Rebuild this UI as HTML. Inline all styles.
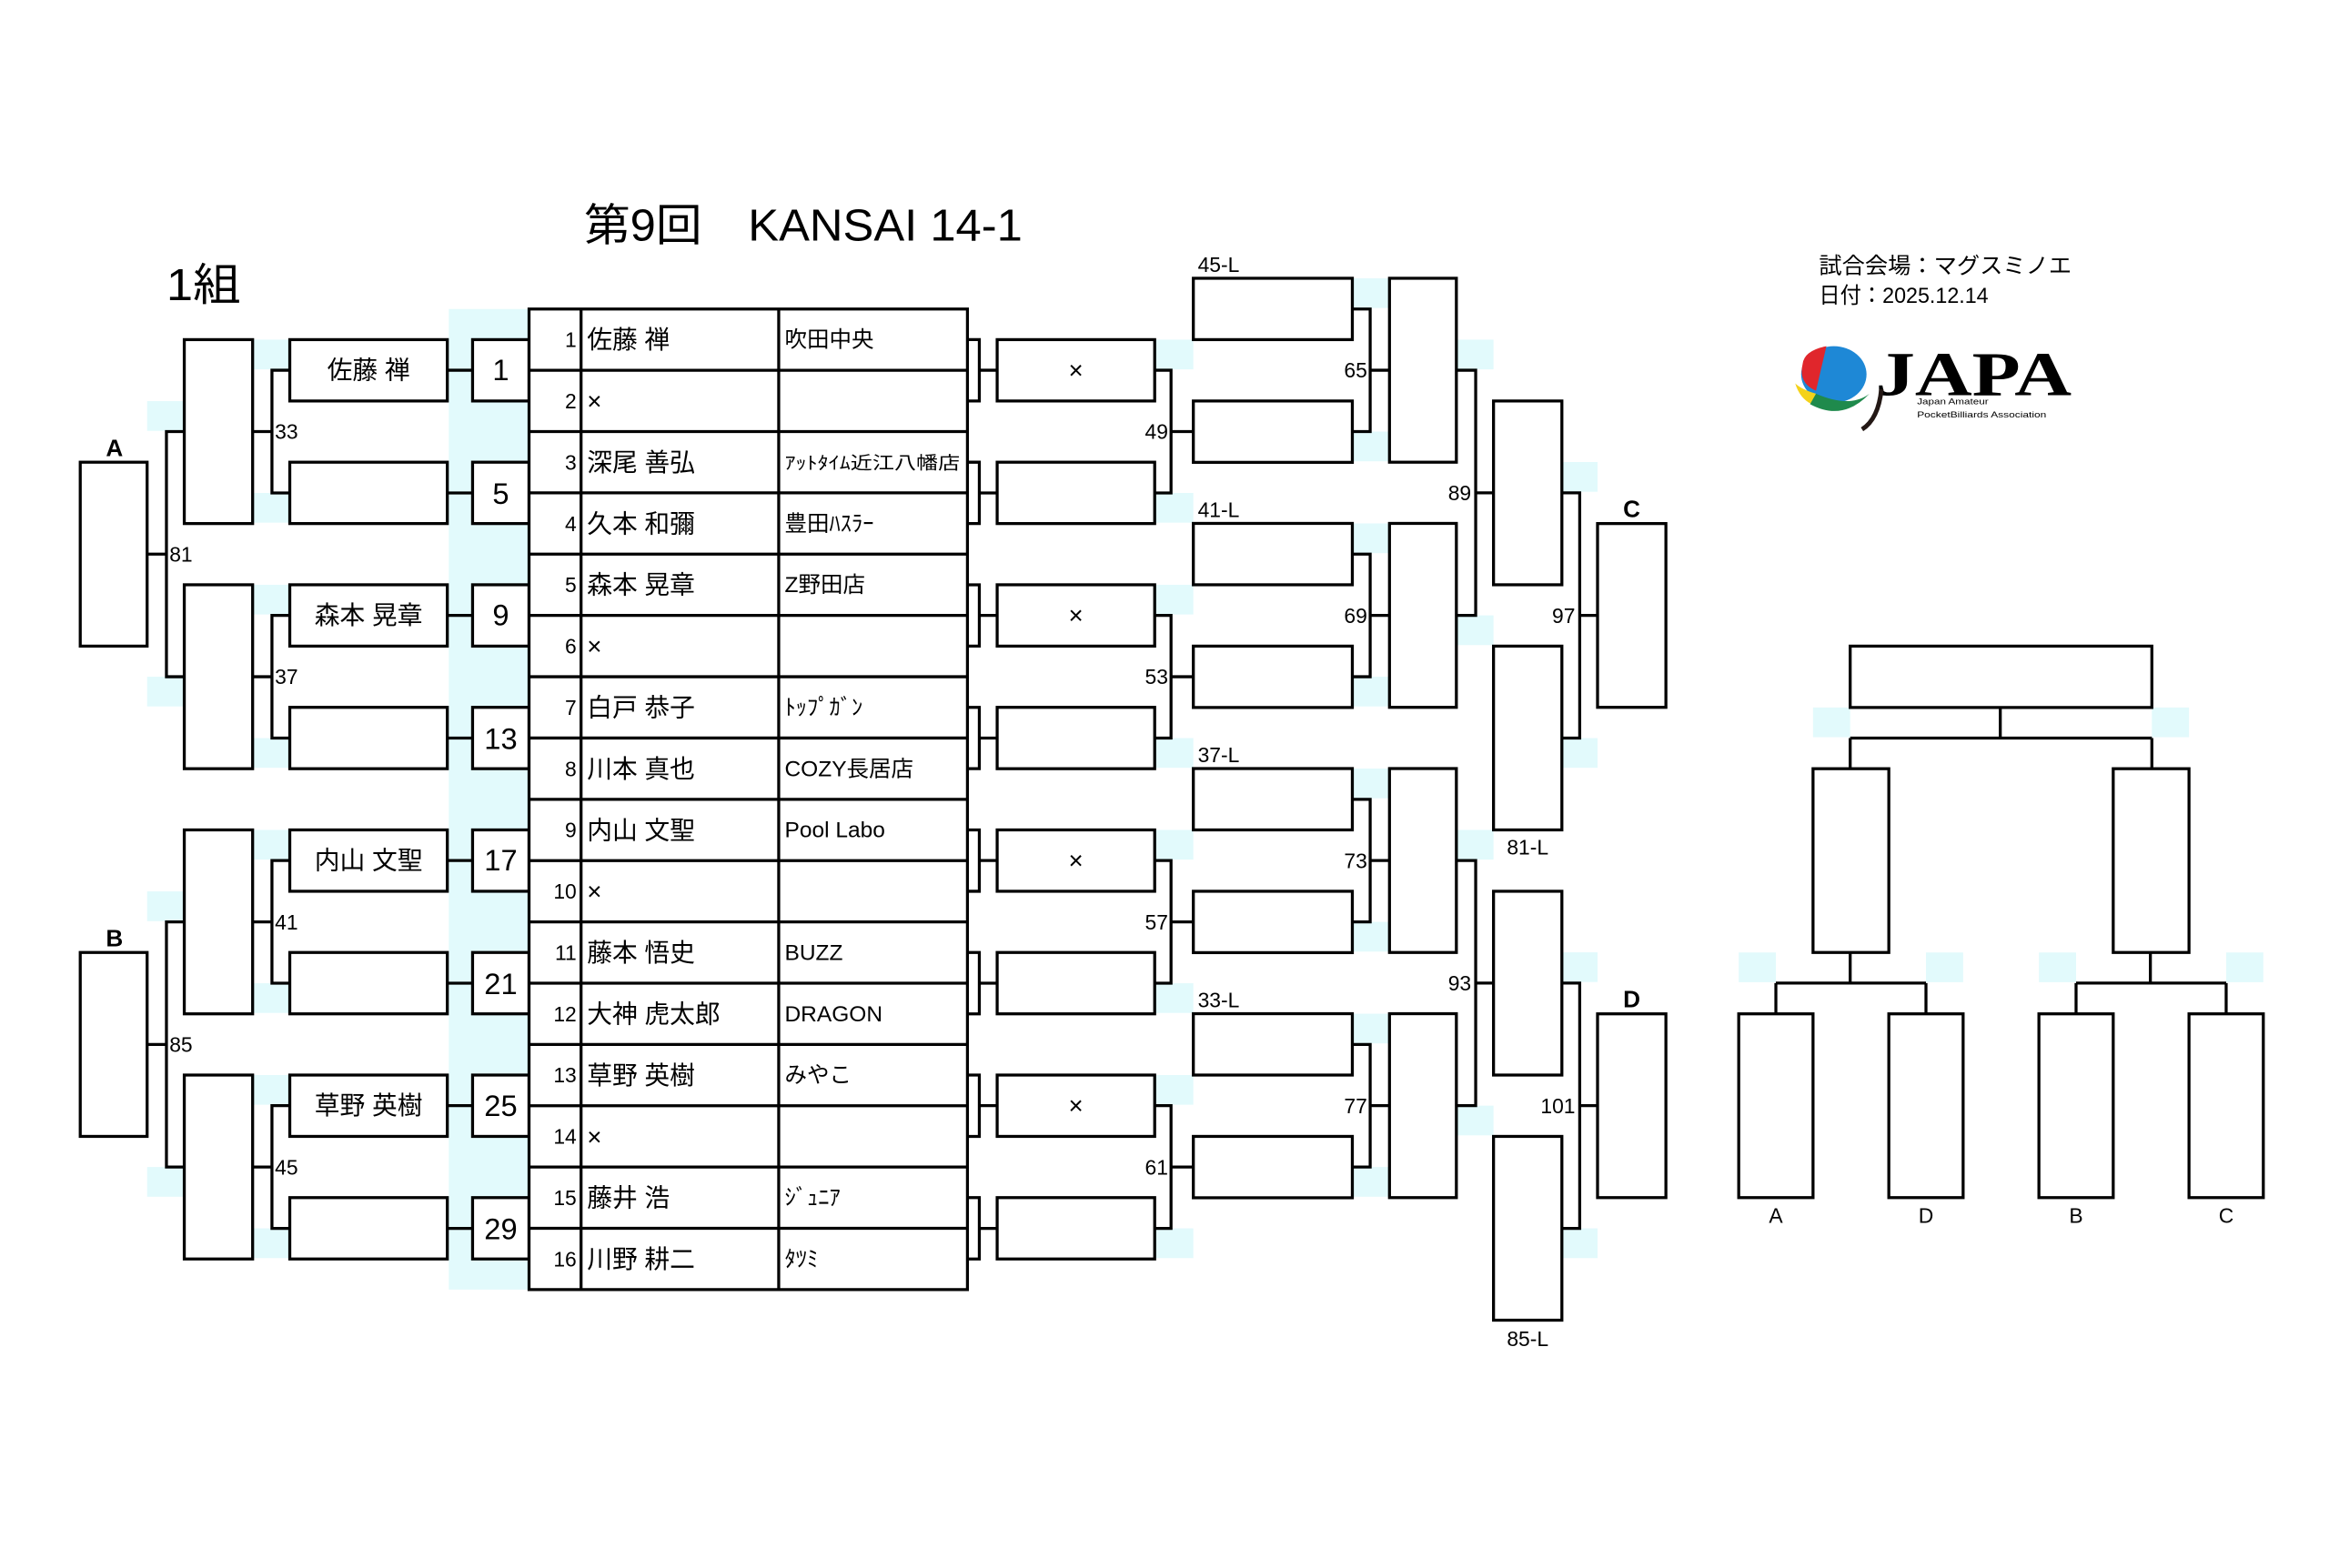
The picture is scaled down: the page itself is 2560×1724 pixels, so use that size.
<!DOCTYPE html>
<html><head><meta charset="utf-8"><style>
html,body{margin:0;padding:0;background:#fff;}
svg{display:block;}
text{font-family:"Liberation Sans","Noto Sans CJK JP",sans-serif;fill:#000;}
</style></head><body>
<svg width="2560" height="1724" viewBox="0 0 1567.2 1055.4" preserveAspectRatio="none" xmlns="http://www.w3.org/2000/svg">
<rect x="0" y="0" width="1570" height="1060" fill="#fff"/>
<!-- cyan patches -->
<g fill="#e2fafc">
<rect x="302" y="208" width="54" height="660"/>
<rect x="170" y="228.6" width="25" height="20"/><rect x="170" y="331.8" width="25" height="20"/>
<rect x="170" y="393.6" width="25" height="20"/><rect x="170" y="496.8" width="25" height="20"/>
<rect x="170" y="558.6" width="25" height="20"/><rect x="170" y="661.8" width="25" height="20"/>
<rect x="170" y="723.6" width="25" height="20"/><rect x="170" y="826.8" width="25" height="20"/>
<rect x="99" y="270" width="25" height="20"/><rect x="99" y="455.5" width="25" height="20"/>
<rect x="99" y="600" width="25" height="20"/><rect x="99" y="785.5" width="25" height="20"/>
<rect x="777" y="228.6" width="26" height="20"/><rect x="777" y="331.8" width="26" height="20"/>
<rect x="777" y="393.6" width="26" height="20"/><rect x="777" y="496.8" width="26" height="20"/>
<rect x="777" y="558.6" width="26" height="20"/><rect x="777" y="661.8" width="26" height="20"/>
<rect x="777" y="723.6" width="26" height="20"/><rect x="777" y="826.8" width="26" height="20"/>
<rect x="910" y="187.3" width="25" height="20"/><rect x="910" y="290.5" width="25" height="20"/>
<rect x="910" y="352.3" width="25" height="20"/><rect x="910" y="455.5" width="25" height="20"/>
<rect x="910" y="517.3" width="25" height="20"/><rect x="910" y="620.5" width="25" height="20"/>
<rect x="910" y="682.3" width="25" height="20"/><rect x="910" y="785.5" width="25" height="20"/>
<rect x="980" y="228.6" width="25" height="20"/><rect x="980" y="414.2" width="25" height="20"/>
<rect x="980" y="558.6" width="25" height="20"/><rect x="980" y="744.2" width="25" height="20"/>
<rect x="1051" y="311" width="24" height="20"/><rect x="1051" y="496.8" width="24" height="20"/>
<rect x="1051" y="641" width="24" height="20"/><rect x="1051" y="826.8" width="24" height="20"/>
<rect x="1220" y="476.2" width="25" height="20"/><rect x="1448" y="476.2" width="25" height="20"/>
<rect x="1170" y="641.1" width="25" height="20"/><rect x="1296" y="641.1" width="25" height="20"/>
<rect x="1372" y="641.1" width="25" height="20"/><rect x="1498" y="641.1" width="25" height="20"/>
</g>

<g fill="#fff" stroke="#000" stroke-width="2">
<rect x="195" y="228.6" width="106" height="41.3"/><rect x="195" y="311.1" width="106" height="41.3"/>
<rect x="195" y="393.6" width="106" height="41.3"/><rect x="195" y="476.1" width="106" height="41.3"/>
<rect x="195" y="558.6" width="106" height="41.3"/><rect x="195" y="641.1" width="106" height="41.3"/>
<rect x="195" y="723.6" width="106" height="41.3"/><rect x="195" y="806.1" width="106" height="41.3"/>
<rect x="318" y="228.6" width="38" height="41.3"/><rect x="318" y="311.1" width="38" height="41.3"/>
<rect x="318" y="393.6" width="38" height="41.3"/><rect x="318" y="476.1" width="38" height="41.3"/>
<rect x="318" y="558.6" width="38" height="41.3"/><rect x="318" y="641.1" width="38" height="41.3"/>
<rect x="318" y="723.6" width="38" height="41.3"/><rect x="318" y="806.1" width="38" height="41.3"/>
<rect x="124" y="228.6" width="46" height="123.8"/><rect x="124" y="393.6" width="46" height="123.8"/>
<rect x="124" y="558.6" width="46" height="123.8"/><rect x="124" y="723.6" width="46" height="123.8"/>
<rect x="54" y="311.1" width="45" height="123.8"/><rect x="54" y="641.1" width="45" height="123.8"/>
<rect x="356" y="208" width="295" height="660"/>
<rect x="671" y="228.6" width="106" height="41.3"/><rect x="671" y="311.1" width="106" height="41.3"/>
<rect x="671" y="393.6" width="106" height="41.3"/><rect x="671" y="476.1" width="106" height="41.3"/>
<rect x="671" y="558.6" width="106" height="41.3"/><rect x="671" y="641.1" width="106" height="41.3"/>
<rect x="671" y="723.6" width="106" height="41.3"/><rect x="671" y="806.1" width="106" height="41.3"/>
<rect x="803" y="187.3" width="107" height="41.3"/><rect x="803" y="269.9" width="107" height="41.3"/>
<rect x="803" y="352.3" width="107" height="41.3"/><rect x="803" y="434.9" width="107" height="41.3"/>
<rect x="803" y="517.3" width="107" height="41.3"/><rect x="803" y="599.9" width="107" height="41.3"/>
<rect x="803" y="682.3" width="107" height="41.3"/><rect x="803" y="764.9" width="107" height="41.3"/>
<rect x="935" y="187.3" width="45" height="123.8"/><rect x="935" y="352.3" width="45" height="123.8"/>
<rect x="935" y="517.3" width="45" height="123.8"/><rect x="935" y="682.3" width="45" height="123.8"/>
<rect x="1005" y="269.9" width="46" height="123.7"/><rect x="1005" y="434.9" width="46" height="123.7"/>
<rect x="1005" y="599.9" width="46" height="123.7"/><rect x="1005" y="764.9" width="46" height="123.7"/>
<rect x="1075" y="352.4" width="46" height="123.7"/><rect x="1075" y="682.4" width="46" height="123.7"/>
<rect x="1245" y="434.9" width="203" height="41.3"/>
<rect x="1220" y="517.4" width="51" height="123.7"/><rect x="1422" y="517.4" width="51" height="123.7"/>
<rect x="1170" y="682.4" width="50" height="123.7"/><rect x="1271" y="682.4" width="50" height="123.7"/>
<rect x="1372" y="682.4" width="50" height="123.7"/><rect x="1473" y="682.4" width="50" height="123.7"/>
</g>

<g fill="none" stroke="#000" stroke-width="2">
<path d="M391 208V868M524 208V868"/>
<path d="M356 249.25H651M356 290.5H651M356 331.75H651M356 373H651M356 414.25H651M356 455.5H651M356 496.75H651M356 538H651M356 579.25H651M356 620.5H651M356 661.75H651M356 703H651M356 744.25H651M356 785.5H651M356 826.75H651"/>
<path d="M301 249.2H318M301 331.8H318M301 414.2H318M301 496.8H318M301 579.2H318M301 661.8H318M301 744.2H318M301 826.8H318"/>
<path d="M195 249.2H183V331.8H195M170 290.5H183"/>
<path d="M195 414.2H183V496.8H195M170 455.5H183"/>
<path d="M195 579.2H183V661.8H195M170 620.5H183"/>
<path d="M195 744.2H183V826.8H195M170 785.5H183"/>
<path d="M124 290.5H112V455.5H124M99 373H112"/>
<path d="M124 620.5H112V785.5H124M99 703H112"/>
<path d="M651 228.6H659V269.9H651M651 311.1H659V352.4H651M651 393.6H659V434.9H651M651 476.1H659V517.4H651M651 558.6H659V599.9H651M651 641.1H659V682.4H651M651 723.6H659V764.9H651M651 806.1H659V847.4H651"/>
<path d="M659 249.2H671M659 331.8H671M659 414.2H671M659 496.8H671M659 579.2H671M659 661.8H671M659 744.2H671M659 826.8H671"/>
<path d="M777 249.2H788V331.8H777M788 290.5H803"/>
<path d="M777 414.2H788V496.8H777M788 455.5H803"/>
<path d="M777 579.2H788V661.8H777M788 620.5H803"/>
<path d="M777 744.2H788V826.8H777M788 785.5H803"/>
<path d="M910 208H922V290.5H910M922 249.2H935"/>
<path d="M910 373H922V455.5H910M922 414.2H935"/>
<path d="M910 538H922V620.5H910M922 579.2H935"/>
<path d="M910 703H922V785.5H910M922 744.2H935"/>
<path d="M980 249.2H993V414.2H980M993 331.7H1005"/>
<path d="M980 579.2H993V744.2H980M993 661.7H1005"/>
<path d="M1051 331.7H1063V496.8H1051M1063 414.2H1075"/>
<path d="M1051 661.7H1063V826.8H1051M1063 744.2H1075"/>
<path d="M1346 476.2V496.8M1245 496.8H1448M1245 496.8V517.4M1448 496.8V517.4"/>
<path d="M1245 641.1V661.7M1195 661.7H1296M1195 661.7V682.4M1296 661.7V682.4"/>
<path d="M1447 641.1V661.7M1397 661.7H1498M1397 661.7V682.4M1498 661.7V682.4"/>
</g>

<text x="393" y="162" font-size="30" textLength="295" lengthAdjust="spacingAndGlyphs">第9回　KANSAI 14-1</text>
<text x="112" y="202" font-size="30" textLength="50" lengthAdjust="spacingAndGlyphs">1組</text>
<text x="1224" y="184" font-size="15" textLength="170" lengthAdjust="spacingAndGlyphs">試合会場：マグスミノエ</text>
<text x="1224" y="204" font-size="15" textLength="114" lengthAdjust="spacingAndGlyphs">日付：2025.12.14</text>

<g>
<ellipse cx="1234" cy="252" rx="22" ry="19" fill="#1e88d6"/>
<path d="M1213 245 Q1214 236 1229 233 L1222 263 Q1210 258 1213 245Z" fill="#e0262c"/>
<path d="M1208 258 Q1211 268 1219 272 L1222 265 Q1212 262 1208 258Z" fill="#f4d21a"/>
<path d="M1218 272 Q1240 284 1258 265 Q1245 275 1222 265Z" fill="#1f8a4c"/>
<text x="1262" y="266" font-size="42" font-weight="bold" fill="#231815" textLength="132" lengthAdjust="spacingAndGlyphs" style="font-family:'Liberation Serif',serif">JAPA</text>
<path d="M1266 262 Q1264 282 1253 289" stroke="#231815" stroke-width="3" fill="none"/>
<text x="1290" y="272" font-size="5.5" textLength="48" lengthAdjust="spacingAndGlyphs">Japan Amateur</text>
<text x="1290" y="281" font-size="5.5" textLength="87" lengthAdjust="spacingAndGlyphs">PocketBilliards Association</text>
</g>

<g font-size="14">
<text x="185" y="295.5">33</text><text x="185" y="460.5">37</text>
<text x="185" y="625.5">41</text><text x="185" y="790.5">45</text>
<text x="114" y="378">81</text><text x="114" y="708">85</text>
</g>
<text x="77" y="307" font-size="16" font-weight="bold" text-anchor="middle">A</text>
<text x="77" y="637" font-size="16" font-weight="bold" text-anchor="middle">B</text>
<g font-size="17" text-anchor="middle">
<text x="248" y="255">佐藤 禅</text><text x="248" y="420">森本 晃章</text>
<text x="248" y="585">内山 文聖</text><text x="248" y="750">草野 英樹</text>
</g>
<g font-size="20" text-anchor="middle">
<text x="337" y="256">1</text><text x="337" y="339">5</text>
<text x="337" y="421">9</text><text x="337" y="504">13</text>
<text x="337" y="586">17</text><text x="337" y="669">21</text>
<text x="337" y="751">25</text><text x="337" y="834">29</text>
</g>

<g font-size="14" text-anchor="end">
<text x="388" y="233.6">1</text><text x="388" y="274.9">2</text><text x="388" y="316.1">3</text><text x="388" y="357.4">4</text>
<text x="388" y="398.6">5</text><text x="388" y="439.9">6</text><text x="388" y="481.1">7</text><text x="388" y="522.4">8</text>
<text x="388" y="563.6">9</text><text x="388" y="604.9">10</text><text x="388" y="646.1">11</text><text x="388" y="687.4">12</text>
<text x="388" y="728.6">13</text><text x="388" y="769.9">14</text><text x="388" y="811.1">15</text><text x="388" y="852.4">16</text>
</g>
<g font-size="17">
<text x="395" y="234.6">佐藤 禅</text><text x="395" y="275.9">×</text><text x="395" y="317.1">深尾 善弘</text><text x="395" y="358.4">久本 和彌</text>
<text x="395" y="399.6">森本 晃章</text><text x="395" y="440.9">×</text><text x="395" y="482.1">白戸 恭子</text><text x="395" y="523.4">川本 真也</text>
<text x="395" y="564.6">内山 文聖</text><text x="395" y="605.9">×</text><text x="395" y="647.1">藤本 悟史</text><text x="395" y="688.4">大神 虎太郎</text>
<text x="395" y="729.6">草野 英樹</text><text x="395" y="770.9">×</text><text x="395" y="812.1">藤井 浩</text><text x="395" y="853.4">川野 耕二</text>
</g>
<g font-size="15">
<text x="528" y="233.6">吹田中央</text>
<text x="528" y="315.6" font-size="12" textLength="118" lengthAdjust="spacingAndGlyphs">ｱｯﾄﾀｲﾑ近江八幡店</text>
<text x="528" y="357.4">豊田ﾊｽﾗｰ</text>
<text x="528" y="398.6">Z野田店</text>
<text x="528" y="481.1">ﾄｯﾌﾟｶﾞﾝ</text>
<text x="528" y="522.4">COZY長居店</text>
<text x="528" y="563.6">Pool Labo</text>
<text x="528" y="646.1">BUZZ</text>
<text x="528" y="687.4">DRAGON</text>
<text x="528" y="728.6">みやこ</text>
<text x="528" y="811.1">ｼﾞｭﾆｱ</text>
<text x="528" y="852.4">ﾀﾂﾐ</text>
</g>

<g font-size="17" text-anchor="middle">
<text x="724" y="255">×</text><text x="724" y="420">×</text><text x="724" y="585">×</text><text x="724" y="750">×</text>
</g>
<g font-size="14" text-anchor="end">
<text x="786" y="295.5">49</text><text x="786" y="460.5">53</text><text x="786" y="625.5">57</text><text x="786" y="790.5">61</text>
<text x="920" y="254.2">65</text><text x="920" y="419.2">69</text><text x="920" y="584.2">73</text><text x="920" y="749.2">77</text>
<text x="990" y="336.7">89</text><text x="990" y="666.7">93</text>
<text x="1060" y="419.2">97</text><text x="1060" y="749.2">101</text>
</g>
<g font-size="14">
<text x="806" y="183">45-L</text><text x="806" y="348">41-L</text><text x="806" y="513">37-L</text><text x="806" y="678">33-L</text>
</g>
<g font-size="14" text-anchor="middle">
<text x="1028" y="575">81-L</text><text x="1028" y="906">85-L</text>
<text x="1195" y="823">A</text><text x="1296" y="823">D</text><text x="1397" y="823">B</text><text x="1498" y="823">C</text>
</g>
<text x="1098" y="348" font-size="16" font-weight="bold" text-anchor="middle">C</text>
<text x="1098" y="678" font-size="16" font-weight="bold" text-anchor="middle">D</text>
</svg>
</body></html>
